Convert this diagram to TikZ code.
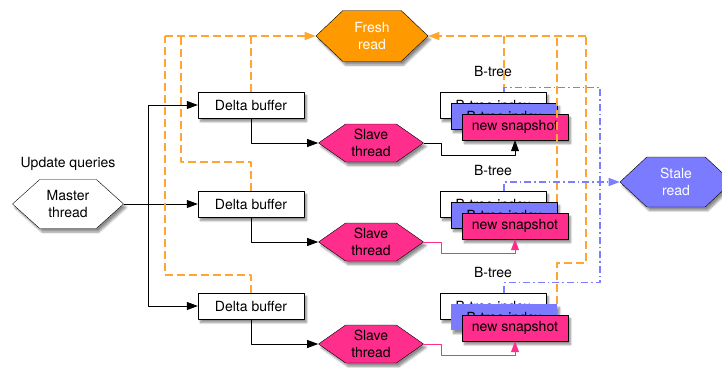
\documentclass[tikz,border=0pt]{standalone}
\usepackage{fontspec}
\setmainfont{TeX Gyre Heros}
\usetikzlibrary{arrows.meta,shapes.symbols,shadows.blur}
\definecolor{freshorange}{RGB}{255,153,0}
\definecolor{slavepink}{RGB}{255,45,140}
\definecolor{staleblue}{RGB}{123,123,255}
\definecolor{freshline}{RGB}{255,165,50}
\definecolor{staleline}{RGB}{125,125,255}
\begin{document}
\begin{tikzpicture}[x=1pt,y=-1pt,>={Triangle[length=11pt,width=8pt]},line join=round,font=\fontsize{14}{17}\selectfont,
	castshadow/.style={blur shadow={shadow xshift=2.5pt,shadow yshift=-3.5pt,shadow blur steps=6,shadow opacity=45}},
	box/.style={draw,fill=white,minimum width=106pt,minimum height=26pt,inner sep=0pt,castshadow},
	hexa/.style={signal,signal to=west and east,draw,align=center,inner sep=0pt,castshadow},
	link/.style={line width=0.8pt},
	freshpath/.style={color=freshline,line width=1.5pt,dash pattern=on 8pt off 4pt},
	stalepath/.style={color=staleline,line width=1.3pt,dash pattern=on 7pt off 3pt on 1.5pt off 3pt}]
	\useasboundingbox (0,0) rectangle (722,367);
	% threads and reads
	\node[hexa,fill=white,minimum width=111pt,minimum height=49pt,signal pointer angle=84] (master) at (68,204) {Master\\thread};
	\node (upd) at (68,164) {Update queries};
	\node[hexa,fill=freshorange,text=white,minimum width=112pt,minimum height=51pt,signal pointer angle=87] (fresh) at (372,36) {Fresh\\read};
	\node[hexa,fill=staleblue,text=white,minimum width=112pt,minimum height=50pt,signal pointer angle=86] (stale) at (676,182) {Stale\\read};
	% first row
	\node[box] (delta1) at (251,105) {Delta buffer};
	\node[hexa,fill=slavepink,minimum width=105pt,minimum height=38pt,signal pointer angle=70] (slave1) at (371,143) {Slave\\thread};
	\node (bt1) at (493,71) {B-tree};
	\node[box] (white1) at (493,105) {B-tree index};
	\node[box,fill=staleblue] (blue1) at (504,116) {B-tree index};
	\node[box,fill=slavepink] (pink1) at (515,127) {new snapshot};
	% second row
	\node[box] (delta2) at (251,204) {Delta buffer};
	\node[hexa,fill=slavepink,minimum width=105pt,minimum height=38pt,signal pointer angle=70] (slave2) at (371,242) {Slave\\thread};
	\node (bt2) at (493,170) {B-tree};
	\node[box] (white2) at (493,204) {B-tree index};
	\node[box,fill=staleblue] (blue2) at (504,215) {B-tree index};
	\node[box,fill=slavepink] (pink2) at (515,226) {new snapshot};
	% third row
	\node[box] (delta3) at (251,306) {Delta buffer};
	\node[hexa,fill=slavepink,minimum width=105pt,minimum height=38pt,signal pointer angle=70] (slave3) at (371,344) {Slave\\thread};
	\node (bt3) at (493,272) {B-tree};
	\node[box] (white3) at (493,306) {B-tree index};
	\node[box,fill=staleblue,draw=none] (blue3) at (504,317) {B-tree index};
	\node[box,fill=slavepink] (pink3) at (515,328) {new snapshot};
	% updates
	\coordinate (fork) at (148,204);
	\draw[link,->] (master.east)--(delta2.west);
	\draw[link,->] (fork)|-(delta1.west);
	\draw[link,->] (fork)|-(delta3.west);
	\draw[link,->] (delta1.south)|-(slave1.west);
	\draw[link,->] (delta2.south)|-(slave2.west);
	\draw[link,->] (delta3.south)|-(slave3.west);
	\draw[link,->] (slave1.east)--++(18,0)--++(0,12)-|(pink1.south);
	\draw[link,slavepink,->] (slave2.east)--++(18,0)--++(0,11)-|(pink2.south);
	\draw[link,slavepink,->] (slave3.east)--++(18,0)--++(0,11)-|(pink3.south);
	% fresh reads
	\coordinate (fl) at (165,36);
	\coordinate (fr) at (586,36);
	\draw[freshpath,->] (fl)--(fresh.west);
	\draw[freshpath] (delta1.north)--(delta1.north|-fresh.west);
	\draw[freshpath] (delta2.north)--++(0,-29)-|(181,36);
	\draw[freshpath] (delta3.north)--++(0,-18)-|(fl);
	\draw[freshpath,->] (fr)--(fresh.east);
	\draw[freshpath] (blue1.north|-white1.north)--(blue1.north|-fresh.east);
	\draw[freshpath] (blue2.north east)--(blue2.north east|-fresh.east);
	\draw[freshpath] (blue3.north east)--++(0,-41)-|(fr);
	% stale reads
	\coordinate (sr) at (600,182);
	\draw[stalepath,->] (blue2.north|-white2.north)|-(stale.west);
	\draw[stalepath] (blue1.north|-white1.north)--++(0,-4)-|(sr);
	\draw[stalepath] (blue3.north|-white3.north)--++(0,-10)-|(sr);
\end{tikzpicture}
\end{document}
